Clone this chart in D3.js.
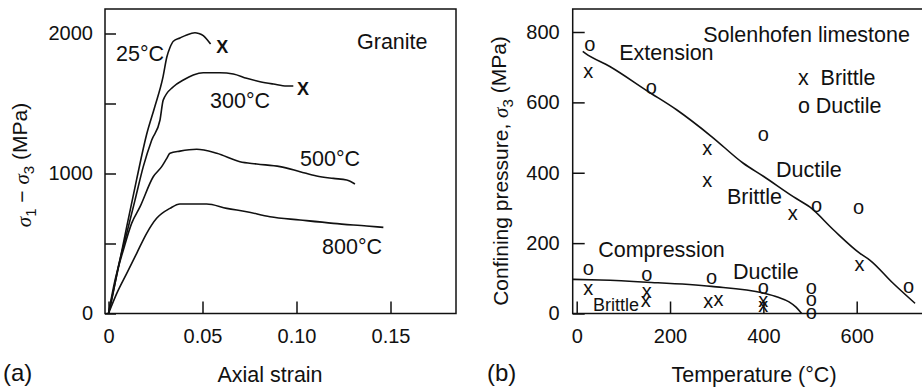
<!DOCTYPE html>
<html><head><meta charset="utf-8">
<script src="https://cdn.jsdelivr.net/npm/d3@7"></script>
<style>
body{margin:0;background:#fff}
svg{display:block}
text{font-family:"Liberation Sans",Arial,Helvetica,sans-serif;fill:#111}
</style></head><body>
<svg id="c" width="922" height="389"></svg>
<script>
// ---------- Panel (a): Granite stress–strain ----------
const xTicksA = [0, 0.05, 0.10, 0.15];
const xTickLabelsA = ["0", "0.05", "0.10", "0.15"];
const yTicksA = [0, 500, 1000, 1500, 2000];
const yTickLabelsA = ["0", "", "1000", "", "2000"];

const curve25 = [[0,0],[0.005,310],[0.0097,620],[0.015,960],[0.0203,1280],[0.0247,1480],[0.029,1690],[0.031,1830],[0.0327,1900],[0.0345,1945],[0.038,1968],[0.0416,1990],[0.046,2005],[0.048,2000],[0.0504,1985],[0.0525,1955],[0.0543,1925]];
const curve300 = [[0,0],[0.0017,96],[0.0052,334],[0.0097,573],[0.0141,810],[0.0185,1049],[0.023,1239],[0.0274,1382],[0.0291,1524],[0.0345,1620],[0.0398,1668],[0.0451,1704],[0.0504,1720],[0.0593,1720],[0.0664,1711],[0.0735,1680],[0.0806,1656],[0.0877,1639],[0.0948,1625],[0.0983,1625]];
const curve500 = [[0,0],[0.0035,239],[0.0079,454],[0.0123,644],[0.0168,763],[0.0238,977],[0.0283,1049],[0.031,1108],[0.0327,1144],[0.038,1160],[0.0469,1173],[0.0576,1144],[0.0699,1084],[0.0788,1068],[0.0912,1049],[0.1019,1013],[0.1107,982],[0.1196,965],[0.1267,954],[0.1311,925]];
const curve800 = [[0,0],[0.0044,144],[0.0097,287],[0.015,430],[0.0203,573],[0.0256,680],[0.0327,751],[0.038,782],[0.0522,782],[0.0629,751],[0.0735,727],[0.0859,691],[0.1019,668],[0.1196,644],[0.1373,625],[0.1462,615]];
const failureA = [[0.0605,1905],[0.1035,1605]];
const curveLabelsA = [["25°C",0.004,1804],["300°C",0.054,1468],["500°C",0.1019,1054],["800°C",0.1136,425]];

// ---------- Panel (b): Solenhofen limestone ----------
const xTicksB = [0, 200, 400, 600];
const yTicksB = [0, 200, 400, 600, 800];
const extensionLine = [[13,745],[18,740],[71,702],[153,631],[214,579],[289,503],[357,427],[400,390],[464,332],[500,302],[550,238],[607,171],[628,152],[678,86],[725,29]];
const compressionLine = [[-8,97],[50,95],[150,89],[289,77],[400,58],[430,47],[455,33],[470,18],[482,0]];
const brittleT = [25,280,280,463,606,25,150,148,282,304,400,400];
const brittleP = [684,467,374,280,136,67,58,33,31,36,35,20];
const ductileT = [28,160,400,514,604,711,25,150,289,400,503,503,503];
const ductileP = [762,639,506,303,299,75,126,109,100,70,72,38,0];

const svg = d3.select("#c");
const ink = "#111";

// ===== Panel (a) =====
const xA = d3.scaleLinear().domain([0, 0.15]).range([108.5, 390.5]);
const yA = d3.scaleLinear().domain([0, 2000]).range([313.5, 33.5]);
const gA = svg.append("g");
const frameA = {l:105, r:456, t:9, b:yA(0)};
gA.append("rect").attr("x",frameA.l).attr("y",frameA.t)
  .attr("width",frameA.r-frameA.l).attr("height",frameA.b-frameA.t)
  .attr("fill","none").attr("stroke",ink).attr("stroke-width",1.5);

const axA_x = gA.append("g").attr("transform",`translate(0,${frameA.b})`)
  .call(d3.axisBottom(xA).tickValues(xTicksA).tickSize(-12).tickPadding(15)
    .tickFormat((d,i)=>xTickLabelsA[i]));
const axA_y = gA.append("g").attr("transform",`translate(${frameA.l},0)`)
  .call(d3.axisLeft(yA).tickValues(yTicksA).tickSize(-11).tickPadding(12)
    .tickFormat((d,i)=>yTickLabelsA[i]));
[axA_x, axA_y].forEach(ax=>{
  ax.select(".domain").remove();
  ax.selectAll(".tick line").attr("stroke",ink).attr("stroke-width",1.5);
  ax.selectAll(".tick text").attr("fill",ink).style("font-size","20px")
    .style("font-family",'"Liberation Sans",Arial,sans-serif');
});

const lineA = d3.line().x(d=>xA(d[0])).y(d=>yA(d[1])).curve(d3.curveMonotoneX);
[curve25, curve300, curve500, curve800].forEach(c=>{
  gA.append("path").attr("d",lineA(c)).attr("fill","none")
    .attr("stroke",ink).attr("stroke-width",1.6);
});
gA.selectAll("text.fail").data(failureA).join("text").attr("class","fail")
  .attr("x",d=>xA(d[0])).attr("y",d=>yA(d[1])).attr("dy","0.36em")
  .attr("text-anchor","middle").style("font-size","18px").style("font-weight","bold").text("X");
gA.selectAll("text.cl").data(curveLabelsA).join("text").attr("class","cl")
  .attr("x",d=>xA(d[1])).attr("y",d=>yA(d[2])).style("font-size","21.5px").text(d=>d[0]);
gA.append("text").attr("x",xA(0.1322)).attr("y",yA(1889)).style("font-size","21.5px").text("Granite");

gA.append("text").attr("x",270).attr("y",382)
  .attr("text-anchor","middle").style("font-size","21.5px").text("Axial strain");
gA.append("text").attr("x",3).attr("y",381).style("font-size","24px").text("(a)");

const ylabA = gA.append("text").attr("transform","translate(31,165) rotate(-90)")
  .attr("text-anchor","middle").style("font-size","21px");
ylabA.append("tspan").style("font-family",'"Liberation Serif","Times New Roman",serif').style("font-style","italic").text("σ");
ylabA.append("tspan").attr("dy","0.3em").style("font-size","15px").text("1");
ylabA.append("tspan").attr("dy","-0.3em").text(" − ");
ylabA.append("tspan").style("font-family",'"Liberation Serif","Times New Roman",serif').style("font-style","italic").text("σ");
ylabA.append("tspan").attr("dy","0.3em").style("font-size","15px").text("3");
ylabA.append("tspan").attr("dy","-0.3em").text(" (MPa)");

// ===== Panel (b) =====
const xB = d3.scaleLinear().domain([0, 600]).range([576.7, 856.7]);
const yB = d3.scaleLinear().domain([0, 800]).range([313.5, 32]);
const gB = svg.append("g");
const frameB = {l:572.7, r:930, t:9, b:yB(0)};
gB.append("rect").attr("x",frameB.l).attr("y",frameB.t)
  .attr("width",frameB.r-frameB.l).attr("height",frameB.b-frameB.t)
  .attr("fill","none").attr("stroke",ink).attr("stroke-width",1.5);

const axB_x = gB.append("g").attr("transform",`translate(0,${frameB.b})`)
  .call(d3.axisBottom(xB).tickValues(xTicksB).tickSize(-12).tickPadding(15).tickFormat(d3.format("d")));
const axB_y = gB.append("g").attr("transform",`translate(${frameB.l},0)`)
  .call(d3.axisLeft(yB).tickValues(yTicksB).tickSize(-12).tickPadding(13).tickFormat(d3.format("d")));
[axB_x, axB_y].forEach(ax=>{
  ax.select(".domain").remove();
  ax.selectAll(".tick line").attr("stroke",ink).attr("stroke-width",1.5);
  ax.selectAll(".tick text").attr("fill",ink).style("font-size","20px")
    .style("font-family",'"Liberation Sans",Arial,sans-serif');
});

const lineB = d3.line().x(d=>xB(d[0])).y(d=>yB(d[1])).curve(d3.curveMonotoneX);
[extensionLine, compressionLine].forEach(c=>{
  gB.append("path").attr("d",lineB(c)).attr("fill","none")
    .attr("stroke",ink).attr("stroke-width",1.6);
});

const brittle = brittleT.map((t,i)=>[t,brittleP[i]]);
const ductile = ductileT.map((t,i)=>[t,ductileP[i]]);
gB.selectAll("text.br").data(brittle).join("text").attr("class","br")
  .attr("x",d=>xB(d[0])).attr("y",d=>yB(d[1])).attr("dy","0.27em")
  .attr("text-anchor","middle").style("font-size","20px").text("x");
gB.selectAll("text.du").data(ductile).join("text").attr("class","du")
  .attr("x",d=>xB(d[0])).attr("y",d=>yB(d[1])).attr("dy","0.27em")
  .attr("text-anchor","middle").style("font-size","20px").text("o");

const annB = [
  ["Solenhofen limestone",271,772,21.5],
  ["Extension",91,720,21.5],
  ["x  Brittle",474,649,21.5],
  ["o Ductile",474,570,21.5],
  ["Ductile",427,388,21.5],
  ["Brittle",322,311,21.5],
  ["Compression",46,161,21.5],
  ["Ductile",335,98,21.5],
  ["Brittle",35,7,18]
];
gB.selectAll("text.ann").data(annB).join("text").attr("class","ann")
  .attr("x",d=>xB(d[1])).attr("y",d=>yB(d[2])).style("font-size",d=>d[3]+"px")
  .style("white-space","pre").text(d=>d[0]);

gB.append("text").attr("x",754).attr("y",382).attr("text-anchor","middle")
  .style("font-size","21.5px").text("Temperature (°C)");
gB.append("text").attr("x",487).attr("y",381).style("font-size","24px").text("(b)");

const ylabB = gB.append("text").attr("transform","translate(508,171) rotate(-90)")
  .attr("text-anchor","middle").style("font-size","21px");
ylabB.append("tspan").text("Confining pressure, ");
ylabB.append("tspan").style("font-family",'"Liberation Serif","Times New Roman",serif').style("font-style","italic").text("σ");
ylabB.append("tspan").attr("dy","0.3em").style("font-size","15px").text("3");
ylabB.append("tspan").attr("dy","-0.3em").text(" (MPa)");
</script>
</body></html>
